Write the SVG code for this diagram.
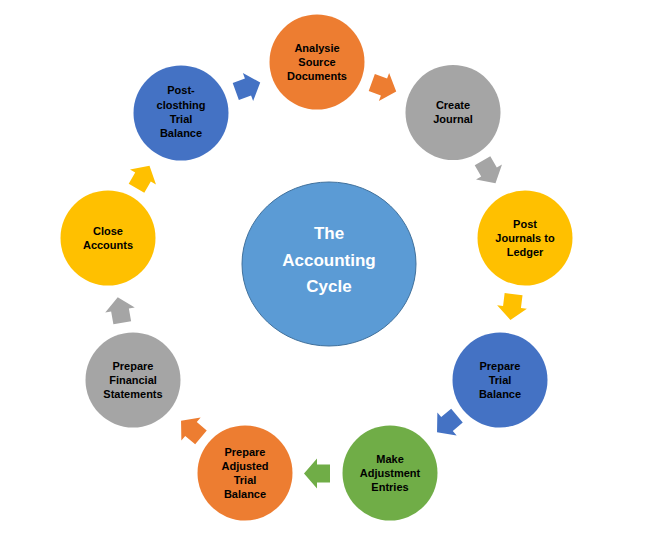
<svg xmlns="http://www.w3.org/2000/svg" width="659" height="545" viewBox="0 0 659 545">
<defs>
<style>
.n{font-family:"Liberation Sans",Arial,sans-serif;font-weight:bold;font-size:11px;fill:#000;text-anchor:middle}
.c{font-family:"Liberation Sans",Arial,sans-serif;font-weight:bold;font-size:17px;fill:#fff;text-anchor:middle}
.or{fill:#ED7D31}.gr{fill:#A5A5A5}.ye{fill:#FFC000}.bl{fill:#4472C4}.gn{fill:#70AD47}
</style>
<path id="arr" d="M-13,-9 L0,-9 L0,-15 L13,0 L0,15 L0,9 L-13,9 Z"/>
</defs>
<rect width="659" height="545" fill="#fff"/>
<g id="connectors">
<use href="#arr" class="bl" transform="translate(248,87) rotate(-20)"/>
<use href="#arr" class="or" transform="translate(384,87) rotate(20)"/>
<use href="#arr" class="gr" transform="translate(489,172) rotate(60)"/>
<use href="#arr" class="ye" transform="translate(512,307) rotate(97)"/>
<use href="#arr" class="bl" transform="translate(447,424) rotate(140)"/>
<use href="#arr" class="gn" transform="translate(317,473.5) rotate(180)"/>
<use href="#arr" class="or" transform="translate(191,429) rotate(220)"/>
<use href="#arr" class="gr" transform="translate(120,310) rotate(260)"/>
<use href="#arr" class="ye" transform="translate(143,177) rotate(-60)"/>
</g>
<g id="center">
<ellipse cx="329" cy="264" rx="87" ry="82" fill="#5B9BD5" stroke="#41719C" stroke-width="1"/>
<text class="c" x="329" y="239">The</text>
<text class="c" x="329" y="266">Accounting</text>
<text class="c" x="329" y="292">Cycle</text>
</g>
<g id="analyse">
<circle cx="317" cy="62" r="47.5" class="or"/>
<text class="n" x="317" y="52">Analysie</text>
<text class="n" x="317" y="66">Source</text>
<text class="n" x="317" y="80">Documents</text>
</g>
<g id="create">
<circle cx="453" cy="112.5" r="47.5" class="gr"/>
<text class="n" x="453" y="109">Create</text>
<text class="n" x="453" y="123">Journal</text>
</g>
<g id="post">
<circle cx="525" cy="238" r="47.5" class="ye"/>
<text class="n" x="525" y="228">Post</text>
<text class="n" x="525" y="242">Journals to</text>
<text class="n" x="525" y="256">Ledger</text>
</g>
<g id="trial">
<circle cx="500" cy="380" r="47.5" class="bl"/>
<text class="n" x="500" y="370">Prepare</text>
<text class="n" x="500" y="384">Trial</text>
<text class="n" x="500" y="398">Balance</text>
</g>
<g id="adjust">
<circle cx="390" cy="473" r="47.5" class="gn"/>
<text class="n" x="390" y="463">Make</text>
<text class="n" x="390" y="477">Adjustment</text>
<text class="n" x="390" y="491">Entries</text>
</g>
<g id="adjtrial">
<circle cx="245" cy="473" r="47.5" class="or"/>
<text class="n" x="245" y="456">Prepare</text>
<text class="n" x="245" y="470">Adjusted</text>
<text class="n" x="245" y="484">Trial</text>
<text class="n" x="245" y="498">Balance</text>
</g>
<g id="financial">
<circle cx="133" cy="380" r="47.5" class="gr"/>
<text class="n" x="133" y="370">Prepare</text>
<text class="n" x="133" y="384">Financial</text>
<text class="n" x="133" y="398">Statements</text>
</g>
<g id="close">
<circle cx="108" cy="238" r="47.5" class="ye"/>
<text class="n" x="108" y="235">Close</text>
<text class="n" x="108" y="249">Accounts</text>
</g>
<g id="postclosing">
<circle cx="181" cy="113" r="47.5" class="bl"/>
<text class="n" x="181" y="94">Post-</text>
<text class="n" x="181" y="109">closthing</text>
<text class="n" x="181" y="123">Trial</text>
<text class="n" x="181" y="137">Balance</text>
</g>
</svg>
